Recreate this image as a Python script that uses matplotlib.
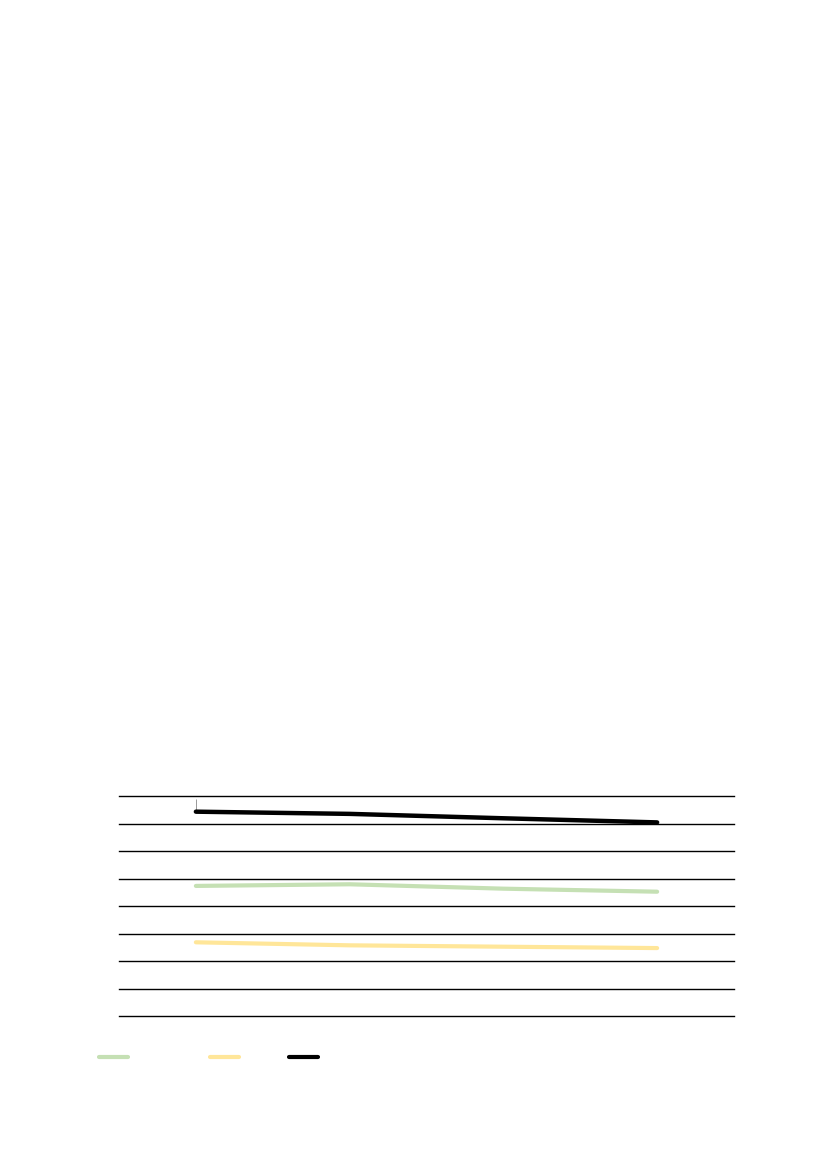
import matplotlib
matplotlib.use("Agg")
import matplotlib.pyplot as plt
from matplotlib.lines import Line2D

# Data
categories = [0, 1, 2, 3]
series_green = [4.73, 4.79, 4.63, 4.52]
series_yellow = [2.68, 2.57, 2.52, 2.47]
series_black = [7.43, 7.35, 7.19, 7.04]
grid_levels = [0, 1, 2, 3, 4, 5, 6, 7, 8]

GREEN = "#c5e0b4"
YELLOW = "#ffe699"
BLACK = "#000000"

fig = plt.figure(figsize=(8.27, 11.69), dpi=100)
ax = fig.add_axes([119 / 827, 1 - 1016 / 1169, (734 - 119) / 827, (1016 - 796) / 1169])

for g in grid_levels:
    ax.axhline(g, color="black", linewidth=1.0, zorder=1, clip_on=False)

lw = 3.0
ax.plot(categories, series_green, color=GREEN, linewidth=lw, solid_capstyle="round", zorder=3)
ax.plot(categories, series_yellow, color=YELLOW, linewidth=lw, solid_capstyle="round", zorder=3)
ax.plot(categories, series_black, color=BLACK, linewidth=3.2, solid_capstyle="round", zorder=3)
ax.vlines(categories[0], series_black[0], 7.9, color="#888888", linewidth=0.6, zorder=2)

ax.set_xlim(-0.5, 3.5)
ax.set_ylim(0, 8)
ax.axis("off")

# Legend (handles only, no visible labels)
handles = [
    (Line2D([], [], color=GREEN, linewidth=lw, solid_capstyle="round"), 99),
    (Line2D([], [], color=YELLOW, linewidth=lw, solid_capstyle="round"), 210),
    (Line2D([], [], color=BLACK, linewidth=lw, solid_capstyle="round"), 289),
]
for h, xpx in handles:
    fig.legend(handles=[h], labels=[""], loc="center left",
               bbox_to_anchor=(xpx / 827, 1 - 1058 / 1169),
               frameon=False, borderpad=0, borderaxespad=0,
               handlelength=2.1, handletextpad=0)

fig.savefig("out.png", dpi=100, facecolor="white")
